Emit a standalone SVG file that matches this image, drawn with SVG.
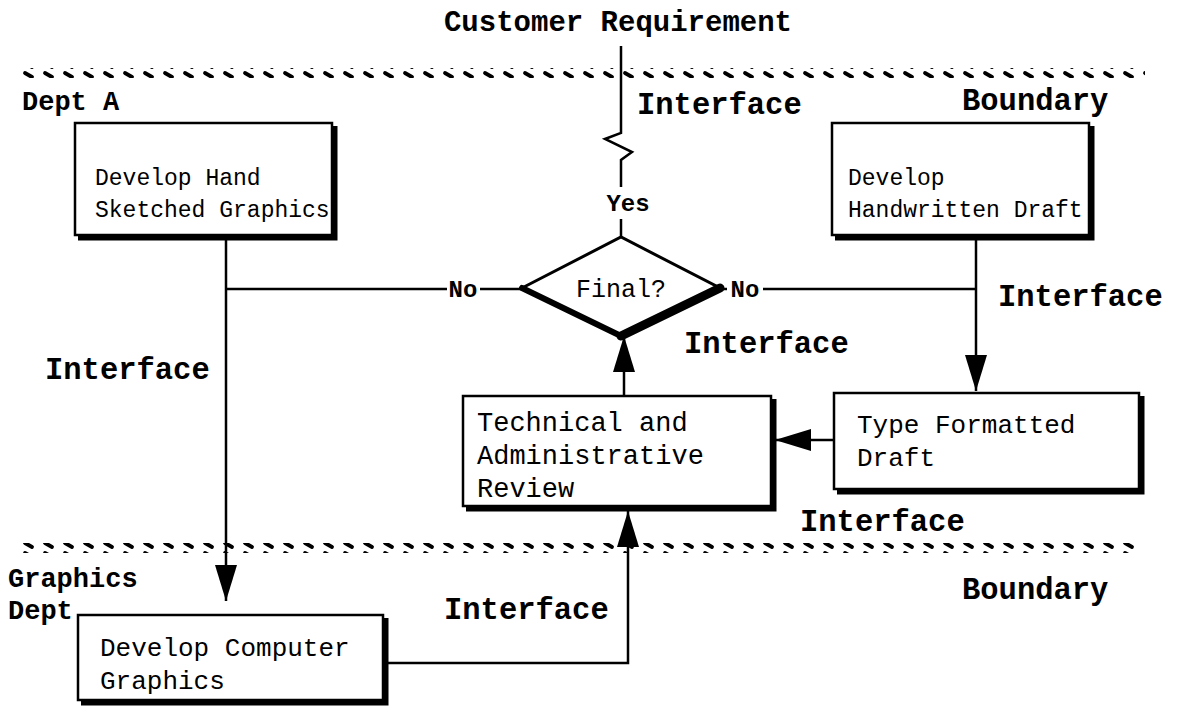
<svg xmlns="http://www.w3.org/2000/svg" width="1182" height="719" viewBox="0 0 1182 719">
  <defs>
    <!-- slanted dash used for department boundaries -->
    <pattern id="boundaryDash" patternUnits="userSpaceOnUse" x="22" y="0" width="20" height="10">
      <line x1="3" y1="3" x2="10" y2="7" stroke="#000" stroke-width="3.8" stroke-linecap="round"/>
    </pattern>
    <marker id="arrow" viewBox="0 0 36 22" refX="36" refY="11" markerWidth="36" markerHeight="22" markerUnits="userSpaceOnUse" orient="auto">
      <path d="M0,0 L36,11 L0,22 Z" fill="#000"/>
    </marker>
  </defs>
  <style>
    .lbl { font-family: "Liberation Mono", "DejaVu Sans Mono", monospace; font-weight: bold; fill: #000; }
    .big { font-size: 30.5px; }
    .mid { font-size: 27px; }
    .sm { font-size: 24px; }
    .box-text { font-family: "Liberation Mono", "DejaVu Sans Mono", monospace; fill: #000; }
    .frame { fill: #fff; stroke: #000; stroke-width: 2.5; }
    .shadow { fill: none; stroke: #000; stroke-width: 5; }
    .wire { fill: none; stroke: #000; stroke-width: 2.5; }
  </style>

  <rect width="1182" height="719" fill="#fff"/>

  <!-- boundaries -->
  <g id="boundaries">
    <rect x="22" y="68" width="1123" height="10" fill="url(#boundaryDash)"/>
    <rect x="22" y="543" width="1120" height="10" fill="url(#boundaryDash)"/>
  </g>

  <!-- free labels -->
  <g id="labels">
    <text class="lbl" font-size="29" x="618" y="31" text-anchor="middle">Customer Requirement</text>
    <text class="lbl mid" x="22" y="110">Dept A</text>
    <text class="lbl big" x="637" y="114">Interface</text>
    <text class="lbl big" x="962" y="110">Boundary</text>
    <text class="lbl big" x="45" y="379">Interface</text>
    <text class="lbl big" x="684" y="353">Interface</text>
    <text class="lbl big" x="998" y="306">Interface</text>
    <text class="lbl big" x="800" y="531">Interface</text>
    <text class="lbl mid" x="8" y="587">Graphics</text>
    <text class="lbl mid" x="8" y="619">Dept</text>
    <text class="lbl big" x="962" y="599">Boundary</text>
    <text class="lbl big" x="444" y="619">Interface</text>
  </g>

  <!-- connectors -->
  <g id="connectors">
    <!-- customer requirement into decision, with interface break -->
    <polyline class="wire" points="621,46 621,133 605,139 632,152 621,160 621,187"/>
    <text class="lbl sm" x="628" y="211" text-anchor="middle">Yes</text>
    <line class="wire" x1="621" y1="219" x2="621" y2="237"/>
    <!-- No branch to the left -->
    <line class="wire" x1="226" y1="289" x2="447" y2="289"/>
    <text class="lbl sm" x="463" y="297" text-anchor="middle">No</text>
    <line class="wire" x1="480" y1="289" x2="522" y2="289"/>
    <!-- No branch to the right -->
    <line class="wire" x1="720" y1="289" x2="727" y2="289"/>
    <text class="lbl sm" x="745" y="297" text-anchor="middle">No</text>
    <line class="wire" x1="763" y1="289" x2="976" y2="289"/>
    <!-- sketched graphics down to computer graphics -->
    <line class="wire" x1="226" y1="238" x2="226" y2="601" marker-end="url(#arrow)"/>
    <!-- handwritten draft down to typed draft -->
    <line class="wire" x1="976" y1="238" x2="976" y2="391" marker-end="url(#arrow)"/>
    <!-- typed draft into review -->
    <line class="wire" x1="833" y1="440" x2="775" y2="440" marker-end="url(#arrow)"/>
    <!-- review up to decision -->
    <line class="wire" x1="624" y1="395" x2="624" y2="336" marker-end="url(#arrow)"/>
    <!-- computer graphics up to review -->
    <polyline class="wire" points="386,663 628,663 628,511" marker-end="url(#arrow)"/>
  </g>

  <g id="hand-sketch">
    <rect class="frame" x="75" y="123" width="257" height="112"/>
    <polyline class="shadow" points="335,126 335,238 78,238"/>
    <text class="box-text" font-size="23" x="95" y="185">Develop Hand</text>
    <text class="box-text" font-size="23" x="95" y="217">Sketched Graphics</text>
  </g>

  <g id="handwritten">
    <rect class="frame" x="832" y="123" width="257" height="112"/>
    <polyline class="shadow" points="1092,126 1092,238 835,238"/>
    <text class="box-text" font-size="23" x="848" y="185">Develop</text>
    <text class="box-text" font-size="23" x="848" y="217">Handwritten Draft</text>
  </g>

  <g id="decision">
    <polygon points="522,288 621,237 720,288 621,336" fill="#fff" stroke="#000" stroke-width="3"/>
    <line x1="522" y1="288" x2="621" y2="336" stroke="#000" stroke-width="6" stroke-linecap="round"/>
    <line x1="621" y1="336" x2="720" y2="288" stroke="#000" stroke-width="9" stroke-linecap="round"/>
    <text class="box-text" font-size="25" x="621" y="297" text-anchor="middle">Final?</text>
  </g>

  <g id="review">
    <rect class="frame" x="463" y="396" width="308" height="110"/>
    <polyline class="shadow" points="774,399 774,509 466,509"/>
    <text class="box-text" font-size="27" x="477" y="431">Technical and</text>
    <text class="box-text" font-size="27" x="477" y="464">Administrative</text>
    <text class="box-text" font-size="27" x="477" y="497">Review</text>
  </g>

  <g id="typed-draft">
    <rect class="frame" x="834" y="393" width="305" height="96"/>
    <polyline class="shadow" points="1142,396 1142,492 837,492"/>
    <text class="box-text" font-size="26" x="857" y="433">Type Formatted</text>
    <text class="box-text" font-size="26" x="857" y="466">Draft</text>
  </g>

  <g id="computer-graphics">
    <rect class="frame" x="78" y="615" width="305" height="85"/>
    <polyline class="shadow" points="386,618 386,703 81,703"/>
    <text class="box-text" font-size="26" x="100" y="656">Develop Computer</text>
    <text class="box-text" font-size="26" x="100" y="689">Graphics</text>
  </g>
</svg>
